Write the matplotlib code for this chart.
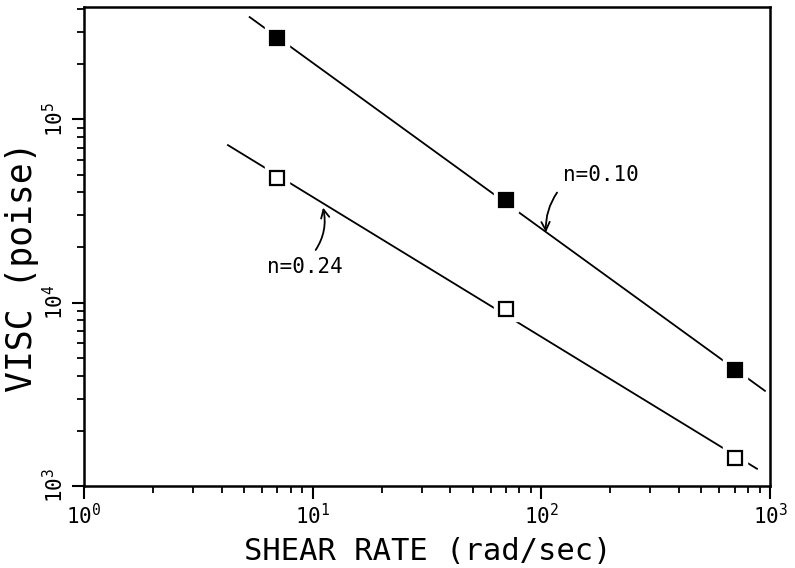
import numpy as np
import matplotlib
matplotlib.use('Agg')
import matplotlib.pyplot as plt
from matplotlib.ticker import LogLocator, LogFormatterMathtext, NullFormatter

plt.rcParams['font.family'] = ['DejaVu Sans Mono', 'DejaVu Sans']
plt.rcParams['mathtext.fontset'] = 'custom'
plt.rcParams['mathtext.rm'] = 'DejaVu Sans Mono'

# shear rate (rad/sec) and viscosity (poise)
shear_rate = [7, 70, 700]
visc_filled = [2.76e5, 3.62e4, 4.28e3]   # n = 0.10
visc_open = [4.77e4, 9.2e3, 1.42e3]      # n = 0.24

# x range covered by each fitted power-law line
fit_range_filled = [5.3, 950]
fit_range_open = [4.26, 877]

fig = plt.figure(figsize=(7.95, 5.68), dpi=100)
ax = fig.add_axes([0.1057, 0.1444, 0.8629, 0.8433])
ax.set_xscale('log')
ax.set_yscale('log')
ax.set_xlim(1, 1000)
ax.set_ylim(1e3, 4.1e5)


def power_fit(x, y, xr):
    k, b = np.polyfit(np.log10(x), np.log10(y), 1)
    xs = np.array(xr)
    return xs, 10 ** (b + k * np.log10(xs))


for vals, xr, face in [(visc_filled, fit_range_filled, 'black'),
                       (visc_open, fit_range_open, 'white')]:
    fx, fy = power_fit(shear_rate, vals, xr)
    ax.plot(fx, fy, color='black', lw=1.3, zorder=2)
    # white halo so the line stops short of each marker
    ax.plot(shear_rate, vals, ls='none', marker='s', ms=17, mfc='white',
            mec='white', zorder=3)
    ax.plot(shear_rate, vals, ls='none', marker='s', ms=9.5, mfc=face,
            mec='black', mew=1.6, zorder=4)

ax.annotate('n=0.10', xy=(104.7, 2.42e4), xytext=(124, 4.95e4),
            fontsize=15, va='center', ha='left',
            arrowprops=dict(arrowstyle='->', lw=1.3, color='black',
                            shrinkA=4, shrinkB=0, relpos=(0.0, 0.0),
                            connectionstyle='arc3,rad=0.2'))
ax.annotate('n=0.24', xy=(11.1, 3.3e4), xytext=(6.31, 1.56e4),
            fontsize=15, va='center', ha='left',
            arrowprops=dict(arrowstyle='->', lw=1.3, color='black',
                            shrinkA=4, shrinkB=0, relpos=(0.57, 1.0),
                            connectionstyle='arc3,rad=0.25'))

ax.xaxis.set_major_locator(LogLocator(base=10))
ax.yaxis.set_major_locator(LogLocator(base=10))
ax.xaxis.set_minor_locator(LogLocator(base=10, subs=np.arange(2, 10)))
ax.yaxis.set_minor_locator(LogLocator(base=10, subs=np.arange(2, 10)))
ax.xaxis.set_major_formatter(LogFormatterMathtext())
ax.yaxis.set_major_formatter(LogFormatterMathtext())
ax.xaxis.set_minor_formatter(NullFormatter())
ax.yaxis.set_minor_formatter(NullFormatter())

ax.tick_params(which='major', direction='out', length=9, width=1.5,
               labelsize=15, top=False, right=False)
ax.tick_params(which='minor', direction='out', length=5, width=1.3,
               top=False, right=False)
ax.tick_params(axis='y', labelrotation=90, pad=3)
for lab in ax.get_yticklabels():
    lab.set_va('center')

for s in ax.spines.values():
    s.set_linewidth(1.8)

ax.set_xlabel('SHEAR RATE (rad/sec)', fontsize=22)
ax.xaxis.set_label_coords(0.501, -0.1065)
ax.set_ylabel('VISC (poise)', fontsize=25)
ax.yaxis.set_label_coords(-0.066, 0.457)

fig.savefig('out.png', dpi=100)
